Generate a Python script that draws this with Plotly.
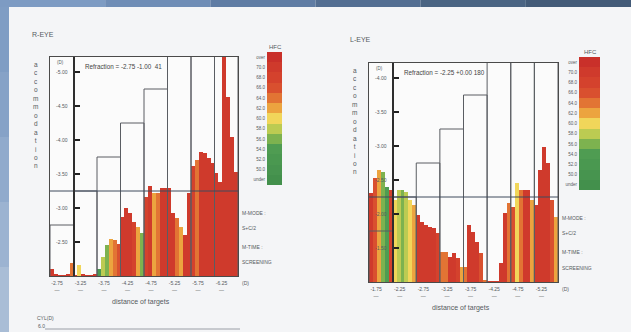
import plotly.graph_objects as go

W, H = 631, 332

# ---------------- data ----------------
HFC_LABELS = ["over", "70.0", "68.0", "66.0", "64.0", "62.0", "60.0", "58.0", "56.0", "54.0", "52.0", "50.0", "under"]
HFC_LEVELS = [72, 70, 68, 66, 64, 62, 60, 58, 56, 54, 52, 50, 48]
HFC_COLORS = ["#c9302a", "#cf3a2c", "#d4422d", "#d9502f", "#e27434", "#eca43f", "#f1d65a",
              "#bccb52", "#7db24f", "#4f9c52", "#4a9850", "#47944f", "#43904c"]

R_TARGETS = ["-2.75", "-3.25", "-3.75", "-4.25", "-4.75", "-5.25", "-5.75", "-6.25"]
R_TARGET_D = [-2.75, -3.25, -3.75, -4.25, -4.75, -5.25, -5.75, -6.25]
R_ACC = [
    -2.10, -2.03, -2.01, -2.01, -2.02, -2.19,
    -2.01, -2.16, -2.03, -2.01, -2.01, -2.02,
    -2.10, -2.28, -2.46, -2.54, -2.53, -2.47,
    -2.87, -3.00, -2.93, -2.79, -2.72, -2.63,
    -3.16, -3.32, -3.22, -3.22, -3.29, -3.29,
    -3.29, -2.93, -2.86, -2.72, -2.60, -3.22,
    -3.62, -3.71, -3.82, -3.81, -3.74, -3.66,
    -3.51, -3.38, -5.25, -4.63, -4.04, -3.53,
]
R_HFC = [
    70, 70, 70, 70, 70, 64,
    70, 60, 70, 70, 70, 70,
    52, 58, 56, 61, 64, 66,
    70, 70, 70, 68, 61, 55,
    68, 70, 61, 64, 70, 70,
    70, 70, 64, 62, 70, 70,
    68, 64, 70, 70, 70, 70,
    70, 70, 70, 70, 70, 70,
]
R_REFRACTION = "Refraction = -2.75 -1.00  41"
R_SE = -3.25
R_YTICKS = [-2.5, -3.0, -3.5, -4.0, -4.5, -5.0]

L_TARGETS = ["-1.75", "-2.25", "-2.75", "-3.25", "-3.75", "-4.25", "-4.75", "-5.25"]
L_TARGET_D = [-1.75, -2.25, -2.75, -3.25, -3.75, -4.25, -4.75, -5.25]
L_ACC = [
    -2.31, -2.53, -2.65, -2.62, -2.40, -2.35,
    -2.21, -2.35, -2.35, -2.32, -2.21, -2.13,
    -1.99, -1.88, -1.84, -1.81, -1.79, -1.72,
    -1.44, -1.44, -1.37, -1.43, -1.35, -1.22,
    -1.22, -1.84, -1.74, -1.59, -1.43, -1.02,
    -1.01, -1.01, -1.01, -1.28, -2.01, -2.16,
    -2.10, -2.46, -2.35, -2.35, -2.35, -2.21,
    -2.13, -2.65, -2.99, -2.75, -2.21, -1.96,
]
L_HFC = [
    70, 66, 62, 56, 54, 68,
    60, 58, 56, 57, 60, 61,
    70, 70, 70, 70, 70, 68,
    64, 64, 70, 70, 68, 62,
    64, 70, 70, 70, 66, 64,
    70, 70, 70, 70, 70, 64,
    66, 60, 64, 70, 70, 62,
    70, 70, 70, 70, 66, 61,
]
L_REFRACTION = "Refraction = -2.25 +0.00 180"
L_SE = -2.25
L_YTICKS = [-1.5, -2.0, -2.5, -3.0, -3.5, -4.0]

BARS_PER_GROUP = 6

# ---------------- helpers ----------------
def px(x):
    return x / W

def py(y):
    return 1 - y / H

def hfc_color(h):
    idx = min(range(len(HFC_LEVELS)), key=lambda i: abs(HFC_LEVELS[i] - h))
    return HFC_COLORS[idx]

TXT = "#555a60"
FONT = "Liberation Sans, Arial, sans-serif"

fig = go.Figure()
layout = dict(
    width=W, height=H, margin=dict(l=0, r=0, t=0, b=0),
    paper_bgcolor="#f4f5f7", plot_bgcolor="#fbfbfb",
    showlegend=False, font=dict(family=FONT, color=TXT, size=6),
    bargap=0,
)
annotations = []
shapes = []


def panel(sfx, ax_sfx, cb_sfx, acc, hfc, targets, target_d, refraction, se, yticks,
          frame, axis_px, cbar, title, title_xy, text_x, text_ys):
    x0, x1, y0, y1 = frame
    n = len(acc)
    ybottom = yticks[0] + 0.5
    ytop = ybottom - (y1 - y0) / 68.0
    xa = "x" + sfx
    ya = "y" + sfx
    # staircase rectangles of target demand
    sx, sy = [], []
    for g, t in enumerate(target_d):
        a = g * BARS_PER_GROUP - 0.5
        b = a + BARS_PER_GROUP
        sx += [a, a, b, b, None]
        sy += [ybottom, t, t, ybottom, None]
    fig.add_trace(go.Scatter(x=sx, y=sy, mode="lines", xaxis=xa, yaxis=ya,
                             line=dict(color="#5a5d62", width=1), hoverinfo="skip"))
    # bars
    fig.add_trace(go.Bar(x=list(range(n)), y=[v - ybottom for v in acc], base=ybottom,
                         xaxis=xa, yaxis=ya, width=1.0,
                         marker=dict(color=[hfc_color(h) for h in hfc], line=dict(width=0))))
    # refraction line
    fig.add_trace(go.Scatter(x=[-0.5, n - 0.5], y=[se, se], mode="lines", xaxis=xa, yaxis=ya,
                             line=dict(color="#3e4a5c", width=1), hoverinfo="skip"))
    # invisible trace for the thick inner axis
    fig.add_trace(go.Scatter(x=[0], y=[ybottom], mode="markers", xaxis=xa, yaxis="y" + ax_sfx,
                             marker=dict(opacity=0), hoverinfo="skip"))
    # colour key
    fig.add_trace(go.Heatmap(z=[[i] for i in range(len(HFC_LABELS))], y=HFC_LABELS, x=[0],
                             xaxis="x" + cb_sfx, yaxis="y" + cb_sfx,
                             colorscale=[[i / (len(HFC_COLORS) - 1), c] for i, c in enumerate(HFC_COLORS)],
                             zmin=0, zmax=len(HFC_COLORS) - 1, showscale=False, hoverinfo="skip"))

    kx = "xaxis" + sfx
    ky = "yaxis" + sfx
    layout[kx] = dict(domain=[px(x0), px(x1)], anchor=ya, range=[-0.5, n - 0.5],
                      showgrid=False, zeroline=False, showline=True, mirror=True,
                      linecolor="#4a4a4a", linewidth=1, ticks="",
                      tickvals=[g * BARS_PER_GROUP + 1.3 for g in range(len(targets))],
                      ticktext=[t + "<br>—" for t in targets],
                      tickfont=dict(size=5, color=TXT), ticklabelstandoff=2)
    layout[ky] = dict(domain=[py(y1), py(y0)], anchor=xa, range=[ybottom, ytop],
                      showgrid=False, zeroline=False, showline=True, mirror=True,
                      linecolor="#4a4a4a", linewidth=1, ticks="", showticklabels=False)
    layout["yaxis" + ax_sfx] = dict(overlaying=ya, anchor="free", position=px(axis_px), side="left",
                                    range=[ybottom, ytop], showgrid=False, zeroline=False,
                                    showline=True, linecolor="#2e2e2e", linewidth=2,
                                    ticks="inside", ticklen=5, tickwidth=2, tickcolor="#222",
                                    tickvals=yticks, ticktext=["%.2f" % v for v in yticks],
                                    tickfont=dict(size=5, color=TXT), ticklabelstandoff=4)
    cx0, cx1, cy0, cy1 = cbar
    layout["xaxis" + cb_sfx] = dict(domain=[px(cx0), px(cx1)], anchor="y" + cb_sfx,
                                    visible=False, range=[-0.5, 0.5])
    layout["yaxis" + cb_sfx] = dict(domain=[py(cy1), py(cy0)], anchor="x" + cb_sfx,
                                    autorange="reversed", showgrid=False, zeroline=False,
                                    ticks="", tickfont=dict(size=4.5, color=TXT),
                                    ticklabelstandoff=1)
    # texts
    annotations.append(dict(text=title, x=px(title_xy[0]), y=py(title_xy[1]), xref="paper", yref="paper",
                            xanchor="left", yanchor="middle", showarrow=False,
                            font=dict(size=7, color=TXT)))
    annotations.append(dict(text="<br>".join("accommodation"), x=px(x0 - 15), y=py(y0 + 2),
                            xref="paper", yref="paper", xanchor="center", yanchor="top",
                            showarrow=False, font=dict(size=6.5, color=TXT)))
    annotations.append(dict(text="(D)", x=px(x0 + 10), y=py(y0 + 5), xref="paper", yref="paper",
                            xanchor="center", yanchor="middle", showarrow=False,
                            font=dict(size=4.5, color=TXT)))
    annotations.append(dict(text=refraction, x=px(axis_px + 9), y=py(y0 + 9), xref="paper", yref="paper",
                            xanchor="left", yanchor="middle", showarrow=False,
                            font=dict(size=6.3, color="#444")))
    annotations.append(dict(text="HFC", x=px((cx0 + cx1) / 2 + 1), y=py(cy0 - 5), xref="paper", yref="paper",
                            xanchor="center", yanchor="middle", showarrow=False,
                            font=dict(size=6, color=TXT)))
    annotations.append(dict(text="distance of targets", x=px((x0 + x1) / 2 - 3), y=py(y1 + 26),
                            xref="paper", yref="paper", xanchor="center", yanchor="middle",
                            showarrow=False, font=dict(size=7, color=TXT)))
    annotations.append(dict(text="(D)", x=px(x1 + 7), y=py(y1 + 7), xref="paper", yref="paper",
                            xanchor="center", yanchor="middle", showarrow=False,
                            font=dict(size=5, color=TXT)))
    for t, yy in zip(["M-MODE :", "S+C/2", "M-TIME :", "SCREENING"], text_ys):
        annotations.append(dict(text=t, x=px(text_x), y=py(yy), xref="paper", yref="paper",
                                xanchor="left", yanchor="middle", showarrow=False,
                                font=dict(size=5, color=TXT)))


panel("", "3", "5", R_ACC, R_HFC, R_TARGETS, R_TARGET_D, R_REFRACTION, R_SE, R_YTICKS,
      frame=(50, 238, 57, 276), axis_px=73.5, cbar=(267, 282, 52, 185),
      title="R-EYE", title_xy=(30, 35), text_x=240, text_ys=(213, 228, 247, 262))
panel("2", "4", "6", L_ACC, L_HFC, L_TARGETS, L_TARGET_D, L_REFRACTION, L_SE, L_YTICKS,
      frame=(369, 558, 63, 282), axis_px=392.5, cbar=(579, 600, 57, 190),
      title="L-EYE", title_xy=(348, 40), text_x=560, text_ys=(218, 233, 252, 268))

# photo background edges
top_cols = ["#7d9bc3", "#6f8db6", "#5f7ca4", "#536e92", "#4a6483", "#435b78"]
for i, c in enumerate(top_cols):
    shapes.append(dict(type="rect", xref="paper", yref="paper", x0=i / len(top_cols), x1=(i + 1) / len(top_cols),
                       y0=py(7), y1=1, fillcolor=c, line=dict(width=0), layer="below"))
left_cols = ["#7f9dc4", "#86a2c7", "#90aacc", "#9cb3d1", "#a9bdd6"]
for i, c in enumerate(left_cols):
    shapes.append(dict(type="rect", xref="paper", yref="paper", x0=0, x1=px(9),
                       y0=py(7 + (i + 1) * 65), y1=py(7 + i * 65), fillcolor=c, line=dict(width=0), layer="below"))
# CYL(D) section at bottom
annotations.append(dict(text="CYL(D)", x=px(35), y=py(318), xref="paper", yref="paper", xanchor="left",
                        yanchor="middle", showarrow=False, font=dict(size=5, color=TXT)))
annotations.append(dict(text="6.0", x=px(36), y=py(326), xref="paper", yref="paper", xanchor="left",
                        yanchor="middle", showarrow=False, font=dict(size=5, color=TXT)))
shapes.append(dict(type="line", xref="paper", yref="paper", x0=px(45), x1=px(240), y0=py(329), y1=py(329),
                   line=dict(color="#9a9ea6", width=1)))

layout["annotations"] = annotations
layout["shapes"] = shapes
fig.update_layout(**layout)
fig.write_html("out.html", config={"displayModeBar": False},
               post_script="document.body.style.margin='0';document.body.style.overflow='hidden';")
